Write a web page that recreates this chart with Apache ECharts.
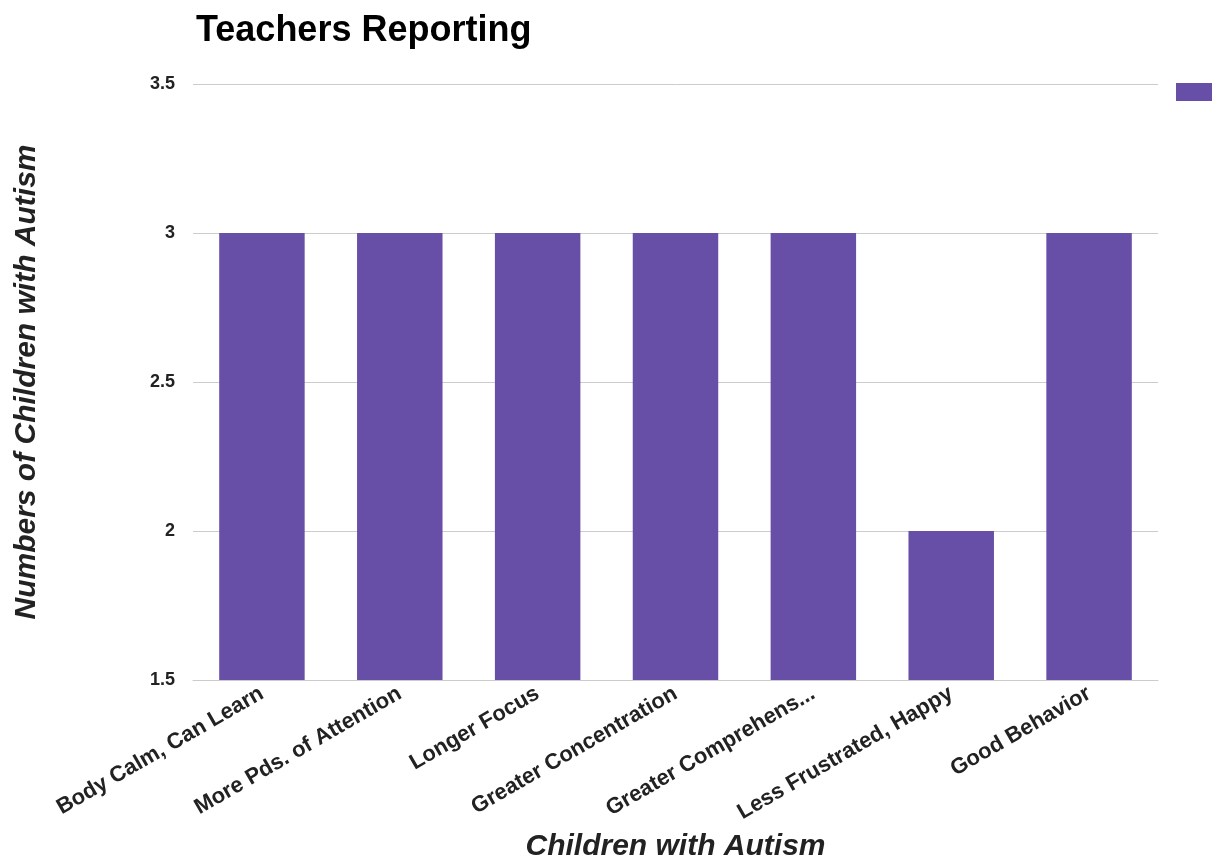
<!DOCTYPE html>
<html>
<head>
<meta charset="utf-8">
<script src="https://cdn.jsdelivr.net/npm/echarts@6/dist/echarts.min.js"></script>
<style>
  html, body { margin: 0; padding: 0; background: #ffffff; }
  #chart { width: 1222px; height: 863px; }
</style>
</head>
<body>
<div id="chart"></div>
<script>
// Outcomes reported by teachers
const categories = [
  'Body Calm, Can Learn',
  'More Pds. of Attention',
  'Longer Focus',
  'Greater Concentration',
  'Greater Comprehens...',
  'Less Frustrated, Happy',
  'Good Behavior'
];
const counts = [3, 3, 3, 3, 3, 2, 3];
const yTicks = { min: 1.5, max: 3.5, step: 0.5 };

const FONT = '"Liberation Sans", Arial, sans-serif';
const BAR = '#674ea7';

const chart = echarts.init(document.getElementById('chart'));
chart.setOption({
  backgroundColor: '#ffffff',
  animation: false,
  title: {
    text: 'Teachers Reporting',
    left: 191,
    top: 8,
    textStyle: { fontFamily: FONT, fontWeight: 'bold', fontSize: 36, color: '#000000' }
  },
  legend: {
    data: [' '],
    left: 1171,
    top: 78,
    itemWidth: 36,
    itemHeight: 18,
    itemGap: 0,
    textStyle: { fontSize: 1 },
    icon: 'rect'
  },
  grid: { left: 193, right: 64, top: 84, bottom: 183, outerBoundsMode: 'none', containLabel: false },
  xAxis: {
    type: 'category',
    data: categories,
    name: 'Children with Autism',
    nameLocation: 'middle',
    nameGap: 152,
    nameTextStyle: { fontFamily: FONT, fontStyle: 'italic', fontWeight: 'bold', fontSize: 30, color: '#222222' },
    axisLine: { lineStyle: { color: '#cccccc' } },
    axisTick: { show: false },
    axisLabel: {
      rotate: 30,
      interval: 0,
      margin: 12,
      fontFamily: FONT,
      fontWeight: 'bold',
      fontSize: 22,
      color: '#222222'
    }
  },
  yAxis: {
    type: 'value',
    min: yTicks.min,
    max: yTicks.max,
    interval: yTicks.step,
    name: 'Numbers of Children with Autism',
    nameLocation: 'middle',
    nameGap: 151,
    nameTextStyle: { fontFamily: FONT, fontStyle: 'italic', fontWeight: 'bold', fontSize: 30, color: '#222222' },
    axisLine: { show: false },
    axisTick: { show: false },
    splitLine: { lineStyle: { color: '#cccccc' } },
    axisLabel: {
      margin: 18,
      fontFamily: FONT,
      fontWeight: 'bold',
      fontSize: 18,
      color: '#222222'
    }
  },
  series: [{
    name: ' ',
    type: 'bar',
    data: counts,
    barCategoryGap: '38%',
    itemStyle: { color: BAR }
  }]
});
</script>
</body>
</html>
